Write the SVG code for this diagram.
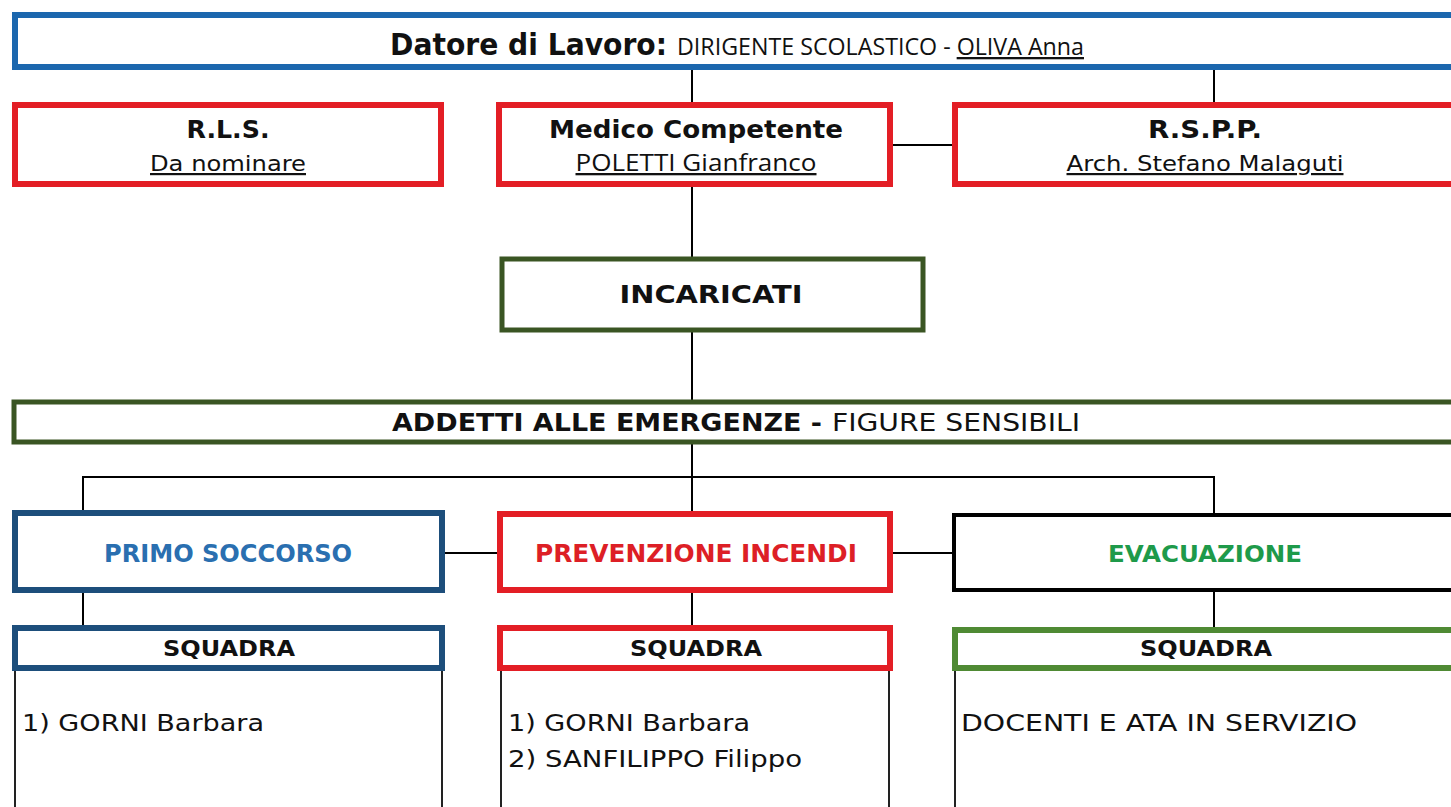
<svg xmlns="http://www.w3.org/2000/svg" width="1451" height="807" viewBox="0 0 1451 807">
<style>
.bg{fill:#ffffff}
.box{fill:#ffffff}
.blue{stroke:#1c67ae;stroke-width:6}
.red{stroke:#e31e25;stroke-width:6}
.dgreen{stroke:#3a5523;stroke-width:5}
.navy{stroke:#1d4e7b;stroke-width:6}
.black{stroke:#000000;stroke-width:4}
.green{stroke:#4f8a34;stroke-width:6}
.conn{stroke:#000000;stroke-width:2;fill:none}
.body{stroke:#222222;stroke-width:2;fill:none}
.v{font-family:"DejaVu Sans",Verdana,sans-serif;fill:#111111}
.vb{font-family:"DejaVu Sans",Verdana,sans-serif;font-weight:bold;fill:#111111}
.c{font-family:"Open Sans","Liberation Sans",sans-serif;fill:#111111}
.u{text-decoration:underline}
</style>
<rect class="bg" x="0" y="0" width="1451" height="807"/>
<g id="connectors">
<line class="conn" x1="692" y1="70" x2="692" y2="102"/>
<line class="conn" x1="1214" y1="70" x2="1214" y2="102"/>
<line class="conn" x1="893" y1="145" x2="952" y2="145"/>
<line class="conn" x1="692" y1="187" x2="692" y2="257"/>
<line class="conn" x1="692" y1="330" x2="692" y2="400"/>
<line class="conn" x1="692" y1="444" x2="692" y2="511"/>
<polyline class="conn" points="83,511 83,477 1214,477 1214,513"/>
<line class="conn" x1="444" y1="553" x2="497" y2="553"/>
<line class="conn" x1="893" y1="553" x2="952" y2="553"/>
<line class="conn" x1="83" y1="593" x2="83" y2="625"/>
<line class="conn" x1="692" y1="593" x2="692" y2="625"/>
<line class="conn" x1="1214" y1="592" x2="1214" y2="627"/>
</g>
<g id="datore">
<rect class="box blue" x="15" y="15" width="1450" height="52"/>
<text class="vb" x="390" y="55" font-size="30" textLength="277" lengthAdjust="spacingAndGlyphs">Datore di Lavoro:</text>
<text class="c" x="677" y="55" font-size="23" textLength="407" lengthAdjust="spacingAndGlyphs">DIRIGENTE SCOLASTICO - <tspan class="u">OLIVA Anna</tspan></text>
</g>
<g id="rls">
<rect class="box red" x="15" y="105" width="426" height="79"/>
<text class="vb" x="228" y="138" font-size="25" text-anchor="middle" textLength="83" lengthAdjust="spacingAndGlyphs">R.L.S.</text>
<text class="v u" x="228" y="171" font-size="22" text-anchor="middle" textLength="156" lengthAdjust="spacingAndGlyphs">Da nominare</text>
</g>
<g id="medico">
<rect class="box red" x="499" y="105" width="391" height="79"/>
<text class="vb" x="696" y="138" font-size="25" text-anchor="middle" textLength="294" lengthAdjust="spacingAndGlyphs">Medico Competente</text>
<text class="c u" x="696" y="171" font-size="23" text-anchor="middle" textLength="241" lengthAdjust="spacingAndGlyphs">POLETTI Gianfranco</text>
</g>
<g id="rspp">
<rect class="box red" x="955" y="105" width="510" height="79"/>
<text class="vb" x="1205" y="138" font-size="25" text-anchor="middle" textLength="114" lengthAdjust="spacingAndGlyphs">R.S.P.P.</text>
<text class="v u" x="1205" y="171" font-size="22" text-anchor="middle" textLength="277" lengthAdjust="spacingAndGlyphs">Arch. Stefano Malaguti</text>
</g>
<g id="incaricati">
<rect class="box dgreen" x="502" y="259" width="421" height="71"/>
<text class="vb" x="711" y="303" font-size="25" text-anchor="middle" textLength="183" lengthAdjust="spacingAndGlyphs">INCARICATI</text>
</g>
<g id="addetti">
<rect class="box dgreen" x="14" y="402" width="1450" height="40"/>
<text class="vb" x="392" y="431" font-size="24" textLength="430" lengthAdjust="spacingAndGlyphs">ADDETTI ALLE EMERGENZE -</text>
<text class="v" x="832" y="431" font-size="24" textLength="248" lengthAdjust="spacingAndGlyphs">FIGURE SENSIBILI</text>
</g>
<g id="primo-soccorso">
<rect class="box navy" x="15" y="513" width="427" height="77"/>
<text class="vb" x="228" y="562" font-size="24" text-anchor="middle" style="fill:#2a6fb0" textLength="248" lengthAdjust="spacingAndGlyphs">PRIMO SOCCORSO</text>
</g>
<g id="prevenzione-incendi">
<rect class="box red" x="500" y="514" width="390" height="76"/>
<text class="vb" x="696" y="562" font-size="24" text-anchor="middle" style="fill:#dd1f26" textLength="322" lengthAdjust="spacingAndGlyphs">PREVENZIONE INCENDI</text>
</g>
<g id="evacuazione">
<rect class="box black" x="954" y="515" width="510" height="75"/>
<text class="vb" x="1205" y="562" font-size="23" text-anchor="middle" style="fill:#1e9a4a" textLength="194" lengthAdjust="spacingAndGlyphs">EVACUAZIONE</text>
</g>
<g id="squadra-primo-soccorso">
<polyline class="body" points="15,670 15,807"/>
<polyline class="body" points="442,670 442,807"/>
<rect class="box navy" x="15" y="628" width="427" height="40"/>
<text class="vb" x="229" y="656" font-size="21" text-anchor="middle" textLength="132" lengthAdjust="spacingAndGlyphs">SQUADRA</text>
<text class="v" x="22" y="731" font-size="23" textLength="242" lengthAdjust="spacingAndGlyphs">1) GORNI Barbara</text>
</g>
<g id="squadra-prevenzione">
<polyline class="body" points="501,670 501,807"/>
<polyline class="body" points="889,670 889,807"/>
<rect class="box red" x="500" y="628" width="390" height="40"/>
<text class="vb" x="696" y="656" font-size="21" text-anchor="middle" textLength="132" lengthAdjust="spacingAndGlyphs">SQUADRA</text>
<text class="v" x="508" y="731" font-size="23" textLength="242" lengthAdjust="spacingAndGlyphs">1) GORNI Barbara</text>
<text class="v" x="508" y="767" font-size="23" textLength="294" lengthAdjust="spacingAndGlyphs">2) SANFILIPPO Filippo</text>
</g>
<g id="squadra-evacuazione">
<polyline class="body" points="955,670 955,807"/>
<rect class="box green" x="955" y="630" width="510" height="38"/>
<text class="vb" x="1206" y="656" font-size="21" text-anchor="middle" textLength="132" lengthAdjust="spacingAndGlyphs">SQUADRA</text>
<text class="v" x="961" y="731" font-size="23" textLength="396" lengthAdjust="spacingAndGlyphs">DOCENTI E ATA IN SERVIZIO</text>
</g>
</svg>
